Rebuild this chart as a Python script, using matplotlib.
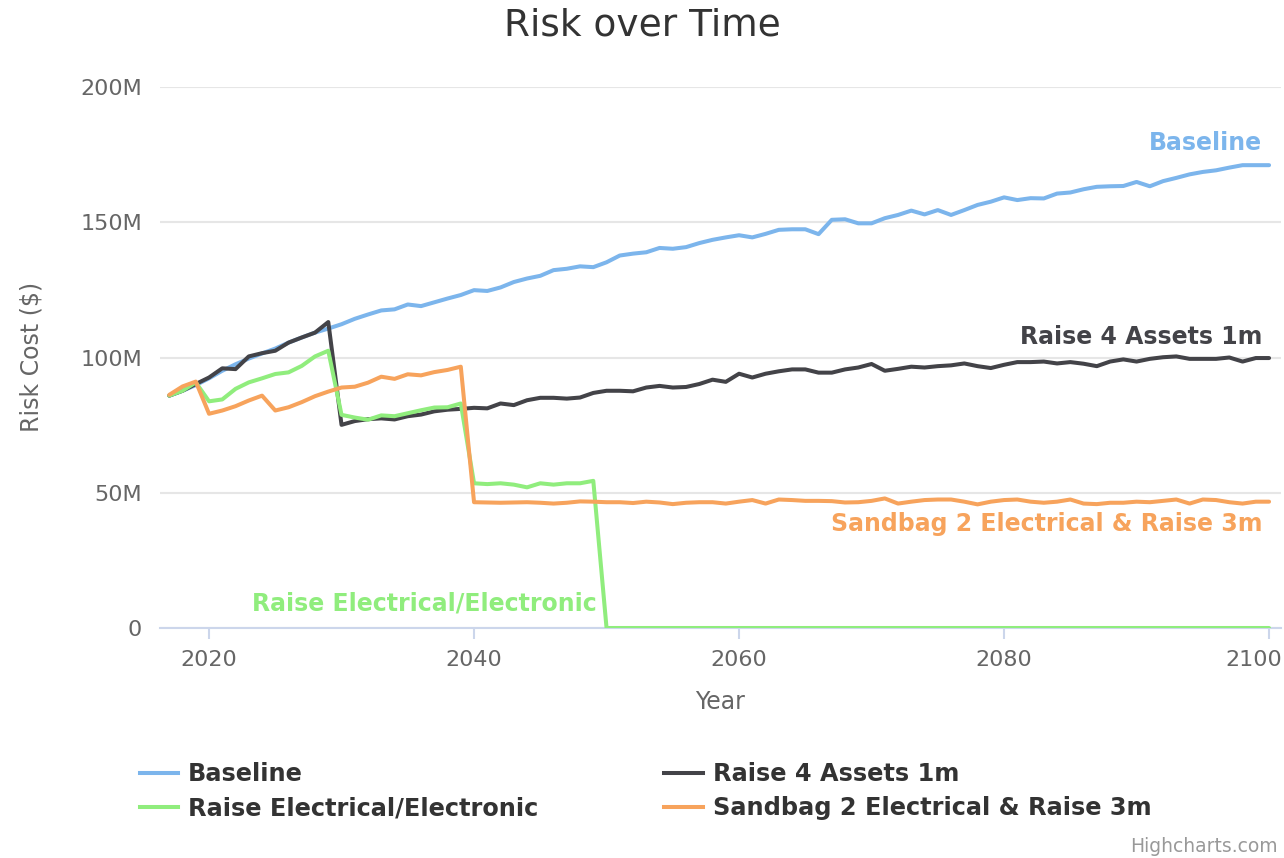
import matplotlib
matplotlib.use("Agg")
import matplotlib.pyplot as plt
from matplotlib.ticker import FuncFormatter, FixedLocator
from matplotlib.lines import Line2D
from matplotlib.transforms import ScaledTranslation

years = list(range(2017, 2101))

baseline = [
    85.9, 87.7, 89.8, 92.3, 95.1, 97.5, 99.6, 101.5, 103.3, 105.5,
    107.4, 109.2, 110.7, 112.3, 114.3, 115.9, 117.4, 117.8, 119.6, 119.0,
    120.4, 121.8, 123.1, 124.9, 124.6, 125.9, 127.9, 129.2, 130.2, 132.3,
    132.8, 133.7, 133.4, 135.2, 137.7, 138.4, 138.9, 140.5, 140.2, 140.8,
    142.3, 143.5, 144.4, 145.2, 144.4, 145.7, 147.2, 147.4, 147.4, 145.6,
    150.9, 151.1, 149.6, 149.6, 151.5, 152.7, 154.3, 152.9, 154.5, 152.7,
    154.5, 156.4, 157.6, 159.2, 158.2, 158.9, 158.8, 160.6, 161.0, 162.2,
    163.1, 163.3, 163.4, 164.9, 163.3, 165.2, 166.4, 167.7, 168.6, 169.2,
    170.2, 171.1, 171.1, 171.1,
]

raise_4_assets = [
    85.9, 87.7, 90.2, 92.6, 96.0, 95.7, 100.4, 101.6, 102.5, 105.5,
    107.4, 109.2, 113.1, 75.1, 76.5, 77.2, 77.5, 77.1, 78.3, 78.9,
    80.1, 80.7, 81.0, 81.4, 81.2, 83.0, 82.4, 84.2, 85.1, 85.1,
    84.8, 85.2, 86.9, 87.7, 87.7, 87.5, 88.9, 89.5, 88.9, 89.1,
    90.2, 91.8, 91.0, 94.0, 92.6, 94.0, 94.9, 95.6, 95.6, 94.4,
    94.4, 95.6, 96.3, 97.6, 95.1, 95.8, 96.6, 96.3, 96.8, 97.1,
    97.8, 96.8, 96.1, 97.3, 98.3, 98.3, 98.5, 97.8, 98.3, 97.7,
    96.8, 98.5, 99.3, 98.5, 99.5, 100.1, 100.4, 99.5, 99.5, 99.5,
    100.0, 98.5, 99.8, 99.8,
]

raise_electrical = [
    85.9, 87.7, 90.8, 83.8, 84.5, 88.4, 90.8, 92.3, 93.9, 94.5,
    96.9, 100.4, 102.5, 78.8, 77.8, 77.0, 78.6, 78.3, 79.4, 80.5,
    81.5, 81.6, 83.0, 53.5, 53.2, 53.5, 53.0, 52.0, 53.5, 53.0,
    53.5, 53.5, 54.4,
] + [0.0] * 51

sandbag_raise = [
    86.2, 89.3, 91.1, 79.2, 80.4, 82.0, 84.1, 85.9, 80.4, 81.6,
    83.5, 85.7, 87.4, 88.9, 89.2, 90.7, 92.9, 92.1, 93.8, 93.4,
    94.6, 95.4, 96.6, 46.5, 46.4, 46.3, 46.4, 46.5, 46.3, 46.0,
    46.3, 46.8, 46.7, 46.5, 46.5, 46.2, 46.7, 46.4, 45.8, 46.3,
    46.5, 46.5, 46.0, 46.7, 47.3, 46.0, 47.5, 47.3, 47.0, 47.0,
    46.9, 46.4, 46.5, 47.0, 47.9, 46.0, 46.7, 47.3, 47.5, 47.5,
    46.7, 45.7, 46.7, 47.3, 47.5, 46.7, 46.3, 46.7, 47.5, 46.0,
    45.8, 46.3, 46.3, 46.7, 46.5, 47.0, 47.5, 46.0, 47.5, 47.3,
    46.5, 46.0, 46.7, 46.7,
]

series_names = [
    "Baseline",
    "Raise 4 Assets 1m",
    "Raise Electrical/Electronic",
    "Sandbag 2 Electrical & Raise 3m",
]
series_values = [baseline, raise_4_assets, raise_electrical, sandbag_raise]
series_colors = ["#7cb5ec", "#434348", "#90ed7d", "#f7a35c"]

x_ticks = [2020, 2040, 2060, 2080, 2100]
y_ticks = [0, 50e6, 100e6, 150e6, 200e6]

plt.rcParams["font.family"] = ["DejaVu Sans"]

W, H = 1284, 858
fig = plt.figure(figsize=(W / 100, H / 100), dpi=100)
fig.patch.set_facecolor("white")

left, right, top, bottom = 160, 1281, 87, 628
ax = fig.add_axes([left / W, 1 - bottom / H, (right - left) / W, (bottom - top) / H])

lw = 2.9
for name, vals, col in zip(series_names, series_values, series_colors):
    ax.plot(years, [v * 1e6 for v in vals], color=col, lw=lw,
            solid_joinstyle="round", solid_capstyle="round", label=name, zorder=3)

ax.set_xlim(2016.3, 2100.9)
ax.set_ylim(0, 200e6)

ax.yaxis.set_major_locator(FixedLocator(y_ticks))
ax.xaxis.set_major_locator(FixedLocator(x_ticks))


def fmt_money(v, _pos):
    return "0" if v == 0 else f"{int(round(v / 1e6))}M"


ax.yaxis.set_major_formatter(FuncFormatter(fmt_money))

for spine in ["left", "right", "top"]:
    ax.spines[spine].set_visible(False)
ax.spines["bottom"].set_color("#ccd6eb")
ax.spines["bottom"].set_linewidth(1.5)

ax.grid(axis="y", color="#e6e6e6", lw=1.5, zorder=0)
ax.set_axisbelow(True)

ax.tick_params(axis="y", length=0, pad=13, labelsize=16, labelcolor="#666666")
ax.tick_params(axis="x", length=8, width=1.5, color="#ccd6eb", pad=8,
               labelsize=16, labelcolor="#666666")

# keep the last year label inside the figure edge
last_tick = ax.xaxis.get_major_ticks()[len(x_ticks) - 1]
last_tick.label1.set_horizontalalignment("right")
last_tick.label1.set_transform(last_tick.label1.get_transform()
                               + ScaledTranslation(0.13, 0, fig.dpi_scale_trans))

# titles
fig.text(0.5, 1 - 25 / H, "Risk over Time", ha="center", va="center",
         fontsize=27, color="#333333")
fig.text(32 / W, 1 - 357 / H, "Risk Cost ($)", rotation=90, ha="center",
         va="center", fontsize=17, color="#666666")
fig.text((left + right) / 2 / W, 1 - 702 / H, "Year", ha="center", va="center",
         fontsize=17, color="#666666")

# series labels
label_kw = dict(fontsize=17, fontweight="bold", va="center")
ax.text(2099.5, 179.3e6, "Baseline", ha="right", color=series_colors[0], **label_kw)
ax.text(2099.5, 107.6e6, "Raise 4 Assets 1m", ha="right", color=series_colors[1], **label_kw)
ax.text(2099.5, 38.4e6, "Sandbag 2 Electrical & Raise 3m", ha="right",
        color=series_colors[3], **label_kw)
ax.text(2036.25, 8.9e6, "Raise Electrical/Electronic", ha="center",
        color=series_colors[2], **label_kw)

# legend: two columns, filled row-wise
order = [0, 2, 1, 3]
handles = [Line2D([], [], color=series_colors[i], lw=lw) for i in order]
labels = [series_names[i] for i in order]
leg = fig.legend(handles, labels, ncol=2, loc="upper left",
                 bbox_to_anchor=(140 / W, 1 - 762 / H), frameon=False,
                 prop={"size": 17.3, "weight": "bold"}, handlelength=1.6,
                 handletextpad=0.4, columnspacing=5.25, labelspacing=0.42,
                 borderpad=0, borderaxespad=0)
for t in leg.get_texts():
    t.set_color("#333333")

fig.text(1278 / W, 1 - 847 / H, "Highcharts.com", ha="right", va="center",
         fontsize=13.5, color="#999999")

fig.savefig("out.png", dpi=100, facecolor="white")
